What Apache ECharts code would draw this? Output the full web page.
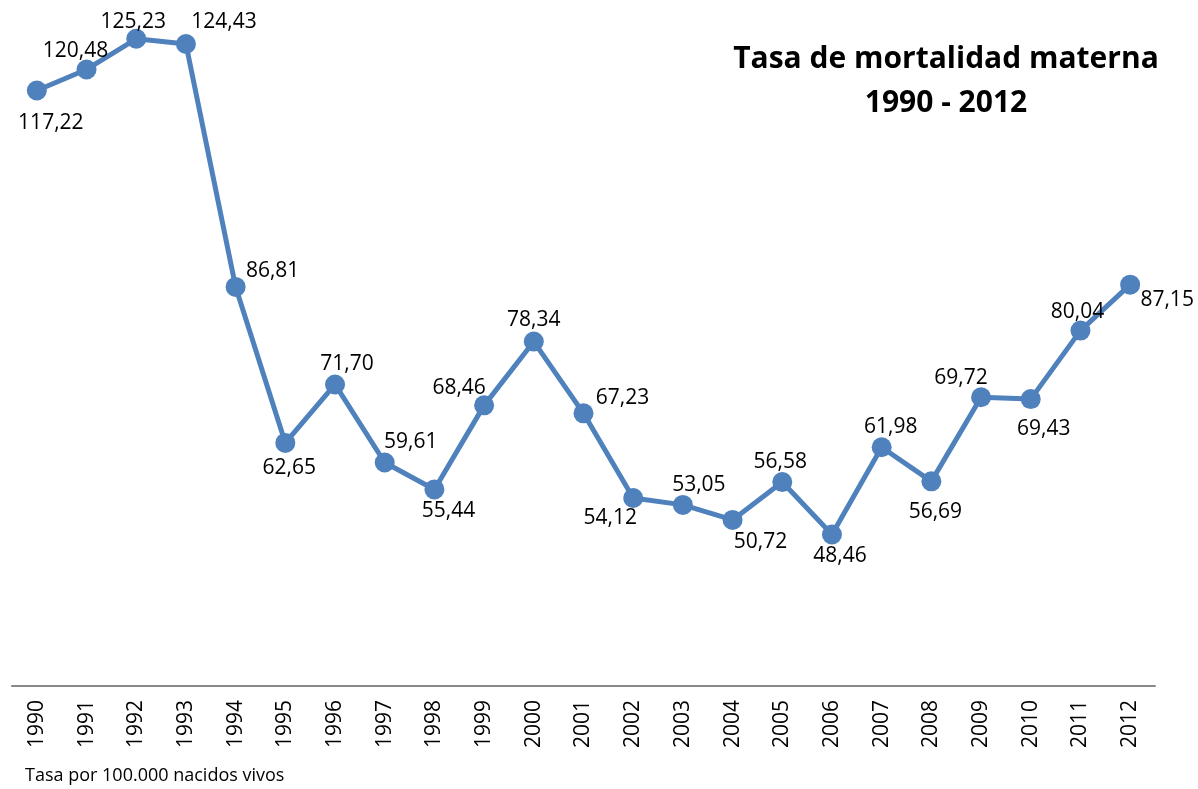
<!DOCTYPE html>
<html>
<head>
<meta charset="utf-8">
<script src="https://cdn.jsdelivr.net/npm/echarts@6/dist/echarts.min.js"></script>
<style>
  html, body { margin: 0; padding: 0; background: #fff; }
  #main { width: 1198px; height: 789px; }
</style>
</head>
<body>
<div id="main"></div>
<script>
// años y tasa de mortalidad materna
const years = ['1990', '1991', '1992', '1993', '1994', '1995', '1996', '1997', '1998', '1999', '2000', '2001',
  '2002', '2003', '2004', '2005', '2006', '2007', '2008', '2009', '2010', '2011', '2012']
const tasa = [117.22, 120.48, 125.23, 124.43, 86.81, 62.65, 71.70, 59.61, 55.44, 68.46, 78.34, 67.23,
  54.12, 53.05, 50.72, 56.58, 48.46, 61.98, 56.69, 69.72, 69.43, 80.04, 87.15]

// desplazamiento de cada etiqueta respecto al punto (solo estilo)
const labelOffsets = [
  [14, 32], [-11, -18], [-3, -17], [38, -22], [37, -16], [4, 25], [12, -20], [26, -21],
  [14, 22], [-25, -17], [0, -22], [39, -15], [-23, 20], [16, -20], [28, 22], [-2, -20],
  [8, 22], [9, -20], [4, 31], [-20, -19], [13, 30], [-3, -19], [37, 15]
]

const font = '"Open Sans", "Liberation Sans", sans-serif'
const chart = echarts.init(document.getElementById('main'))

const option = {
  animation: false,
  title: {
    text: 'Tasa de mortalidad materna\n1990 - 2012',
    left: 941,
    top: 32,
    textAlign: 'center',
    textStyle: {
      fontFamily: font,
      fontSize: 30,
      fontWeight: 'bold',
      color: '#000',
      lineHeight: 44
    }
  },
  graphic: [{
    type: 'text',
    left: 25,
    top: 767,
    style: {
      text: 'Tasa por 100.000 nacidos vivos',
      font: '18px ' + font,
      fill: '#000'
    }
  }],
  grid: {
    left: 12,
    right: 43,
    top: 8,
    bottom: 103
  },
  xAxis: {
    type: 'category',
    data: years,
    boundaryGap: true,
    axisLine: { lineStyle: { color: '#888', width: 2 } },
    axisTick: { show: false },
    axisLabel: {
      rotate: 90,
      margin: 14,
      fontFamily: font,
      fontSize: 21,
      color: '#000'
    }
  },
  yAxis: {
    type: 'value',
    min: 25,
    max: 130,
    show: false,
    splitLine: { show: false }
  },
  series: [{
    type: 'line',
    data: tasa.map((v, i) => ({
      value: v,
      label: { offset: labelOffsets[i] }
    })),
    symbol: 'circle',
    symbolSize: 20,
    itemStyle: { color: '#4F81BD' },
    lineStyle: { color: '#4F81BD', width: 5 },
    label: {
      show: true,
      position: 'inside',
      fontFamily: font,
      fontSize: 21,
      color: '#000',
      formatter: p => p.value.toFixed(2).replace('.', ',')
    }
  }]
}

chart.setOption(option)
</script>
</body>
</html>
